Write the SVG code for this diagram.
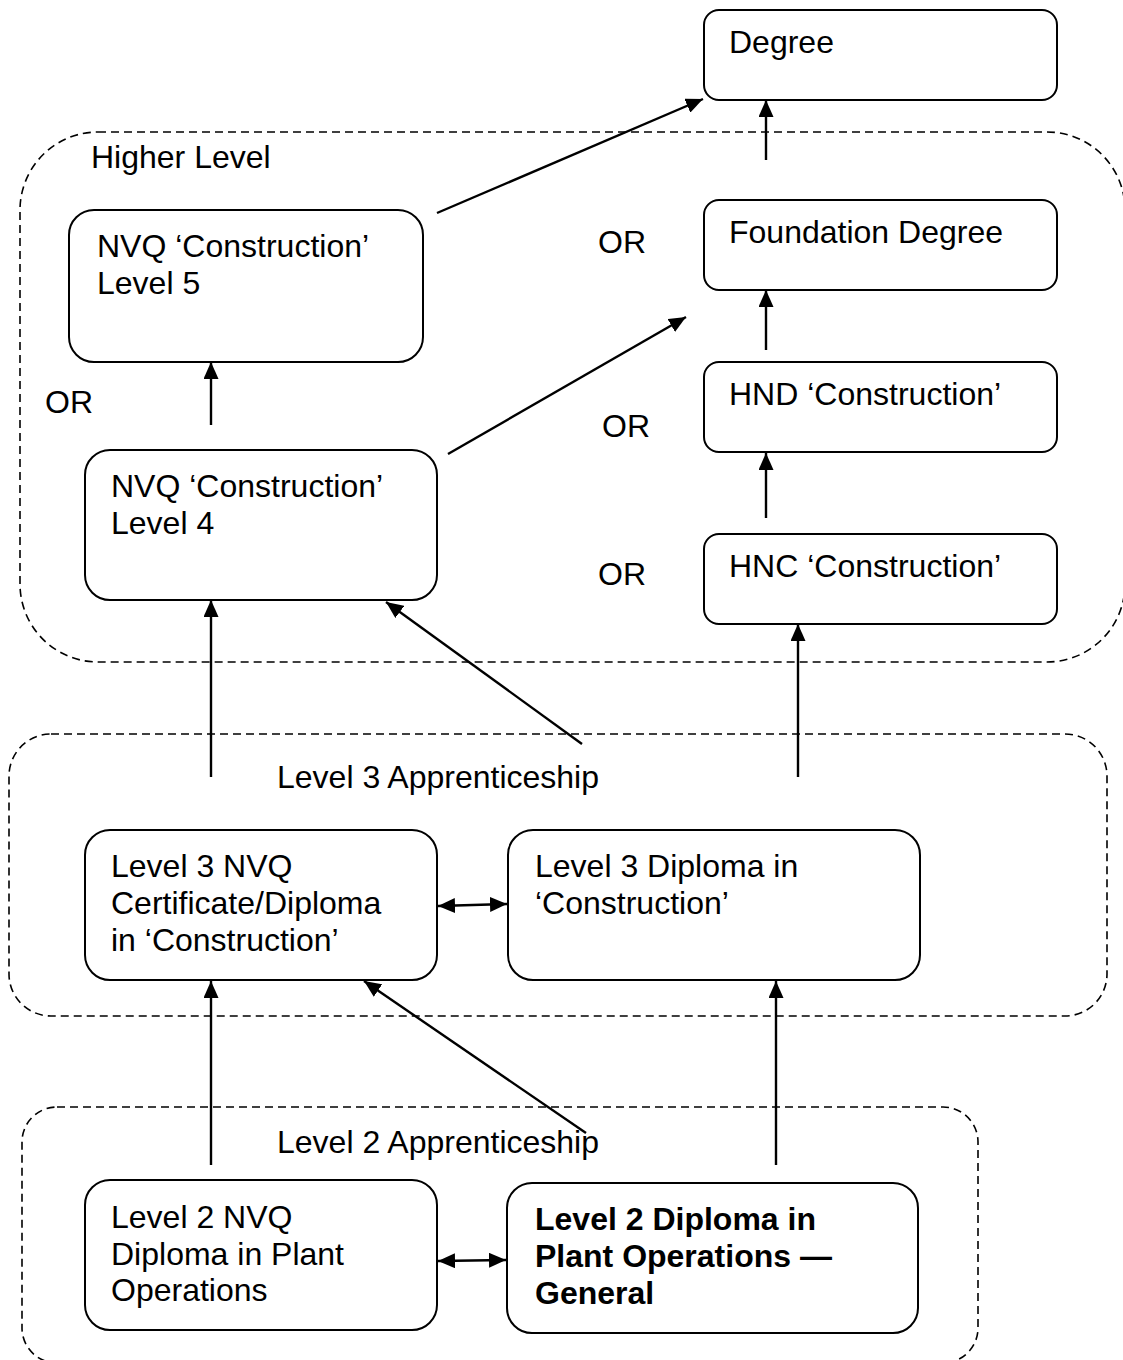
<svg xmlns="http://www.w3.org/2000/svg" width="1123" height="1360" viewBox="0 0 1123 1360">
<defs>
<marker id="ah" markerUnits="userSpaceOnUse" markerWidth="17" markerHeight="15" refX="17" refY="7.5" orient="auto-start-reverse">
<path d="M0,0 L17,7.5 L0,15 z" fill="#000"/>
</marker>
<style>
.box{fill:#fff;stroke:#000;stroke-width:2}
.grp{fill:none;stroke:#000;stroke-width:1.6;stroke-dasharray:8,5}
.t{font-family:"Liberation Sans",Arial,sans-serif;font-size:32px;fill:#000}
.b{font-weight:bold}
.c{fill:none;stroke:#000;stroke-width:2.4;marker-end:url(#ah)}
.d{fill:none;stroke:#000;stroke-width:2.4;marker-end:url(#ah);marker-start:url(#ah)}
</style>
</defs>
<rect width="1123" height="1360" fill="#fff"/>
<g id="groups">
<rect id="higher-level" class="grp" x="20" y="132" width="1105" height="530" rx="78" ry="78"/>
<rect id="level3-app" class="grp" x="9" y="734" width="1098" height="282" rx="42" ry="42"/>
<rect id="level2-app" class="grp" x="22" y="1107" width="956" height="256" rx="35" ry="35"/>
</g>
<g id="labels">
<text class="t" x="91" y="168">Higher Level</text>
<text class="t" x="45" y="413">OR</text>
<text class="t" x="598" y="253">OR</text>
<text class="t" x="602" y="437">OR</text>
<text class="t" x="598" y="585">OR</text>
<text class="t" x="277" y="788">Level 3 Apprenticeship</text>
<text class="t" x="277" y="1153">Level 2 Apprenticeship</text>
</g>
<g id="degree"><rect class="box" x="704" y="10" width="353" height="90" rx="15"/><text class="t" x="729" y="53">Degree</text></g>
<g id="nvq5"><rect class="box" x="69" y="210" width="354" height="152" rx="25"/><text class="t" x="97" y="257">NVQ ‘Construction’</text><text class="t" x="97" y="294">Level 5</text></g>
<g id="foundation"><rect class="box" x="704" y="200" width="353" height="90" rx="15"/><text class="t" x="729" y="243">Foundation Degree</text></g>
<g id="hnd"><rect class="box" x="704" y="362" width="353" height="90" rx="15"/><text class="t" x="729" y="405">HND ‘Construction’</text></g>
<g id="nvq4"><rect class="box" x="85" y="450" width="352" height="150" rx="25"/><text class="t" x="111" y="497">NVQ ‘Construction’</text><text class="t" x="111" y="534">Level 4</text></g>
<g id="hnc"><rect class="box" x="704" y="534" width="353" height="90" rx="15"/><text class="t" x="729" y="577">HNC ‘Construction’</text></g>
<g id="l3nvq"><rect class="box" x="85" y="830" width="352" height="150" rx="25"/><text class="t" x="111" y="877">Level 3 NVQ</text><text class="t" x="111" y="914">Certificate/Diploma</text><text class="t" x="111" y="951">in ‘Construction’</text></g>
<g id="l3dip"><rect class="box" x="508" y="830" width="412" height="150" rx="25"/><text class="t" x="535" y="877">Level 3 Diploma in</text><text class="t" x="535" y="914">‘Construction’</text></g>
<g id="l2nvq"><rect class="box" x="85" y="1180" width="352" height="150" rx="25"/><text class="t" x="111" y="1228">Level 2 NVQ</text><text class="t" x="111" y="1265">Diploma in Plant</text><text class="t" x="111" y="1301">Operations</text></g>
<g id="l2dip"><rect class="box" x="507" y="1183" width="411" height="150" rx="25"/><text class="t b" x="535" y="1230">Level 2 Diploma in</text><text class="t b" x="535" y="1267">Plant Operations —</text><text class="t b" x="535" y="1304">General</text></g>
<g id="connectors">
<line class="c" x1="437" y1="213" x2="703" y2="99"/>
<line class="c" x1="766" y1="160" x2="766" y2="100"/>
<line class="c" x1="766" y1="350" x2="766" y2="290"/>
<line class="c" x1="766" y1="518" x2="766" y2="453"/>
<line class="c" x1="211" y1="425" x2="211" y2="362"/>
<line class="c" x1="448" y1="454" x2="686" y2="317"/>
<line class="c" x1="211" y1="777" x2="211" y2="600"/>
<line class="c" x1="582" y1="744" x2="386" y2="602"/>
<line class="c" x1="798" y1="777" x2="798" y2="624"/>
<line class="d" x1="438" y1="906" x2="507" y2="904"/>
<line class="c" x1="211" y1="1165" x2="211" y2="981"/>
<line class="c" x1="586" y1="1133" x2="364" y2="981"/>
<line class="c" x1="776" y1="1165" x2="776" y2="981"/>
<line class="d" x1="438" y1="1261" x2="506" y2="1260"/>
</g>
</svg>
